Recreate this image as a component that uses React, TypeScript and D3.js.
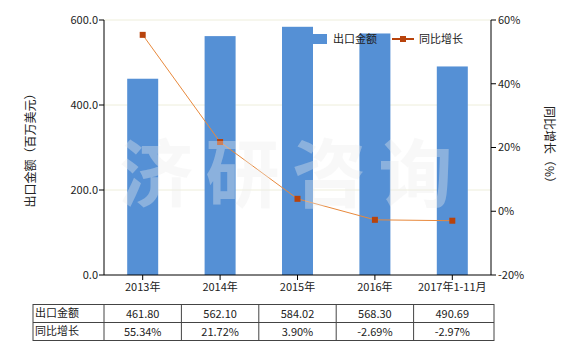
import React from "react";
import * as d3 from "d3";

const categories = ["2013年", "2014年", "2015年", "2016年", "2017年1-11月"];
const exportValues = [461.8, 562.1, 584.02, 568.3, 490.69];
const growthValues = [55.34, 21.72, 3.9, -2.69, -2.97];
const exportLabels = ["461.80", "562.10", "584.02", "568.30", "490.69"];
const growthLabels = ["55.34%", "21.72%", "3.90%", "-2.69%", "-2.97%"];
const leftTicks = [0, 200, 400, 600];
const rightTicks = [-20, 0, 20, 40, 60];
const seriesNames = ["出口金额", "同比增长"];
const watermark = ["济", "研", "咨", "询"];

const W = 580, H = 350;
const L = 104, R = 491, T = 20, B = 275;
const FONT = "'Noto Sans CJK SC', 'DejaVu Sans', sans-serif";
const BAR = "#5590d5";
const LINE = "#e8893c";
const MARK = "#b8430c";

export default function App() {
  const xc = d3.scaleBand<string>().domain(categories).range([L, R]);
  const yL = d3.scaleLinear().domain([0, 600]).range([B, T]);
  const yR = d3.scaleLinear().domain([-20, 60]).range([B, T]);
  const cx = (c: string) => (xc(c) as number) + xc.bandwidth() / 2;
  const bw = 31;
  const line = d3.line<number>().x((_, i) => cx(categories[i])).y((d) => yR(d));
  const tTop = 304.5, rowH = 18;
  const tLeft = 33;

  return (
    <svg width={W} height={H} style={{ position: "absolute", left: 0, top: 0, background: "#fff" }} fontFamily={FONT}>
      {leftTicks.filter((t) => t > 0).map((t) => (
        <line key={t} x1={L} x2={R} y1={yL(t)} y2={yL(t)} stroke="#eeeedb" strokeWidth={1} />
      ))}
      {categories.map((c, i) => (
        <rect key={c} x={cx(c) - bw / 2} y={yL(exportValues[i])} width={bw} height={B - yL(exportValues[i])} fill={BAR} />
      ))}
      <path d={line(growthValues) || ""} fill="none" stroke={LINE} strokeWidth={1} />
      {growthValues.map((v, i) => (
        <rect key={i} x={cx(categories[i]) - 3} y={yR(v) - 3} width={6} height={6} fill={MARK} />
      ))}
      {watermark.map((ch, i) => (
        <text key={ch} x={156 + i * 86.5} y={201} fontSize={74} fontWeight="bold" textAnchor="middle" fill="#ebebeb" fillOpacity={0.36}>{ch}</text>
      ))}
      {/* axes */}
      <line x1={L} x2={L} y1={T} y2={B} stroke="#000" />
      <line x1={R} x2={R} y1={T} y2={B} stroke="#000" />
      <line x1={L} x2={R} y1={B} y2={B} stroke="#000" />
      {leftTicks.map((t) => (
        <g key={t}>
          <line x1={L - 5} x2={L} y1={yL(t)} y2={yL(t)} stroke="#000" />
          <text x={L - 6} y={yL(t)} dy="0.35em" textAnchor="end" fontSize={11} fill="#222">{t.toFixed(1)}</text>
        </g>
      ))}
      {rightTicks.map((t) => (
        <g key={t}>
          <line x1={R} x2={R + 5} y1={yR(t)} y2={yR(t)} stroke="#000" />
          <text x={R + 7} y={yR(t)} dy="0.35em" textAnchor="start" fontSize={11} fill="#222">{t + "%"}</text>
        </g>
      ))}
      {categories.map((c) => (
        <g key={c}>
          <line x1={cx(c)} x2={cx(c)} y1={B} y2={B + 5} stroke="#000" />
          <text x={cx(c)} y={291} textAnchor="middle" fontSize={11} fill="#222">{c}</text>
        </g>
      ))}
      <text transform={`translate(35,${(T + B) / 2}) rotate(-90)`} textAnchor="middle" fontSize={12} fill="#222">出口金额（百万美元）</text>
      <text transform={`translate(545,${(T + B) / 2}) rotate(90)`} textAnchor="middle" fontSize={12} fill="#222">同比增长（%）</text>
      {/* legend */}
      <rect x={313} y={34} width={14} height={10} fill={BAR} />
      <text x={333} y={39} dy="0.35em" fontSize={11} fill="#222">{seriesNames[0]}</text>
      <line x1={392} x2={414} y1={39} y2={39} stroke={MARK} strokeWidth={2} />
      <rect x={400} y={36} width={6} height={6} fill={MARK} />
      <text x={419} y={39} dy="0.35em" fontSize={11} fill="#222">{seriesNames[1]}</text>
      {/* table */}
      <rect x={tLeft} y={tTop} width={R + 3 - tLeft} height={rowH * 2} fill="none" stroke="#444" />
      <line x1={tLeft} x2={R + 3} y1={tTop + rowH} y2={tTop + rowH} stroke="#444" />
      {[L, ...categories.slice(1).map((c) => xc(c) as number)].map((xx, i) => (
        <line key={i} x1={xx} x2={xx} y1={tTop} y2={tTop + rowH * 2} stroke="#444" />
      ))}
      {seriesNames.map((n, r) => (
        <text key={n} x={tLeft + 2} y={tTop + rowH * r + rowH / 2} dy="0.35em" fontSize={11} fill="#222">{n}</text>
      ))}
      {categories.map((c, i) => (
        <g key={c}>
          <text x={cx(c)} y={tTop + rowH / 2 + 1} dy="0.35em" textAnchor="middle" fontSize={11} fill="#222">{exportLabels[i]}</text>
          <text x={cx(c)} y={tTop + rowH * 1.5 + 1} dy="0.35em" textAnchor="middle" fontSize={11} fill="#222">{growthLabels[i]}</text>
        </g>
      ))}
    </svg>
  );
}
